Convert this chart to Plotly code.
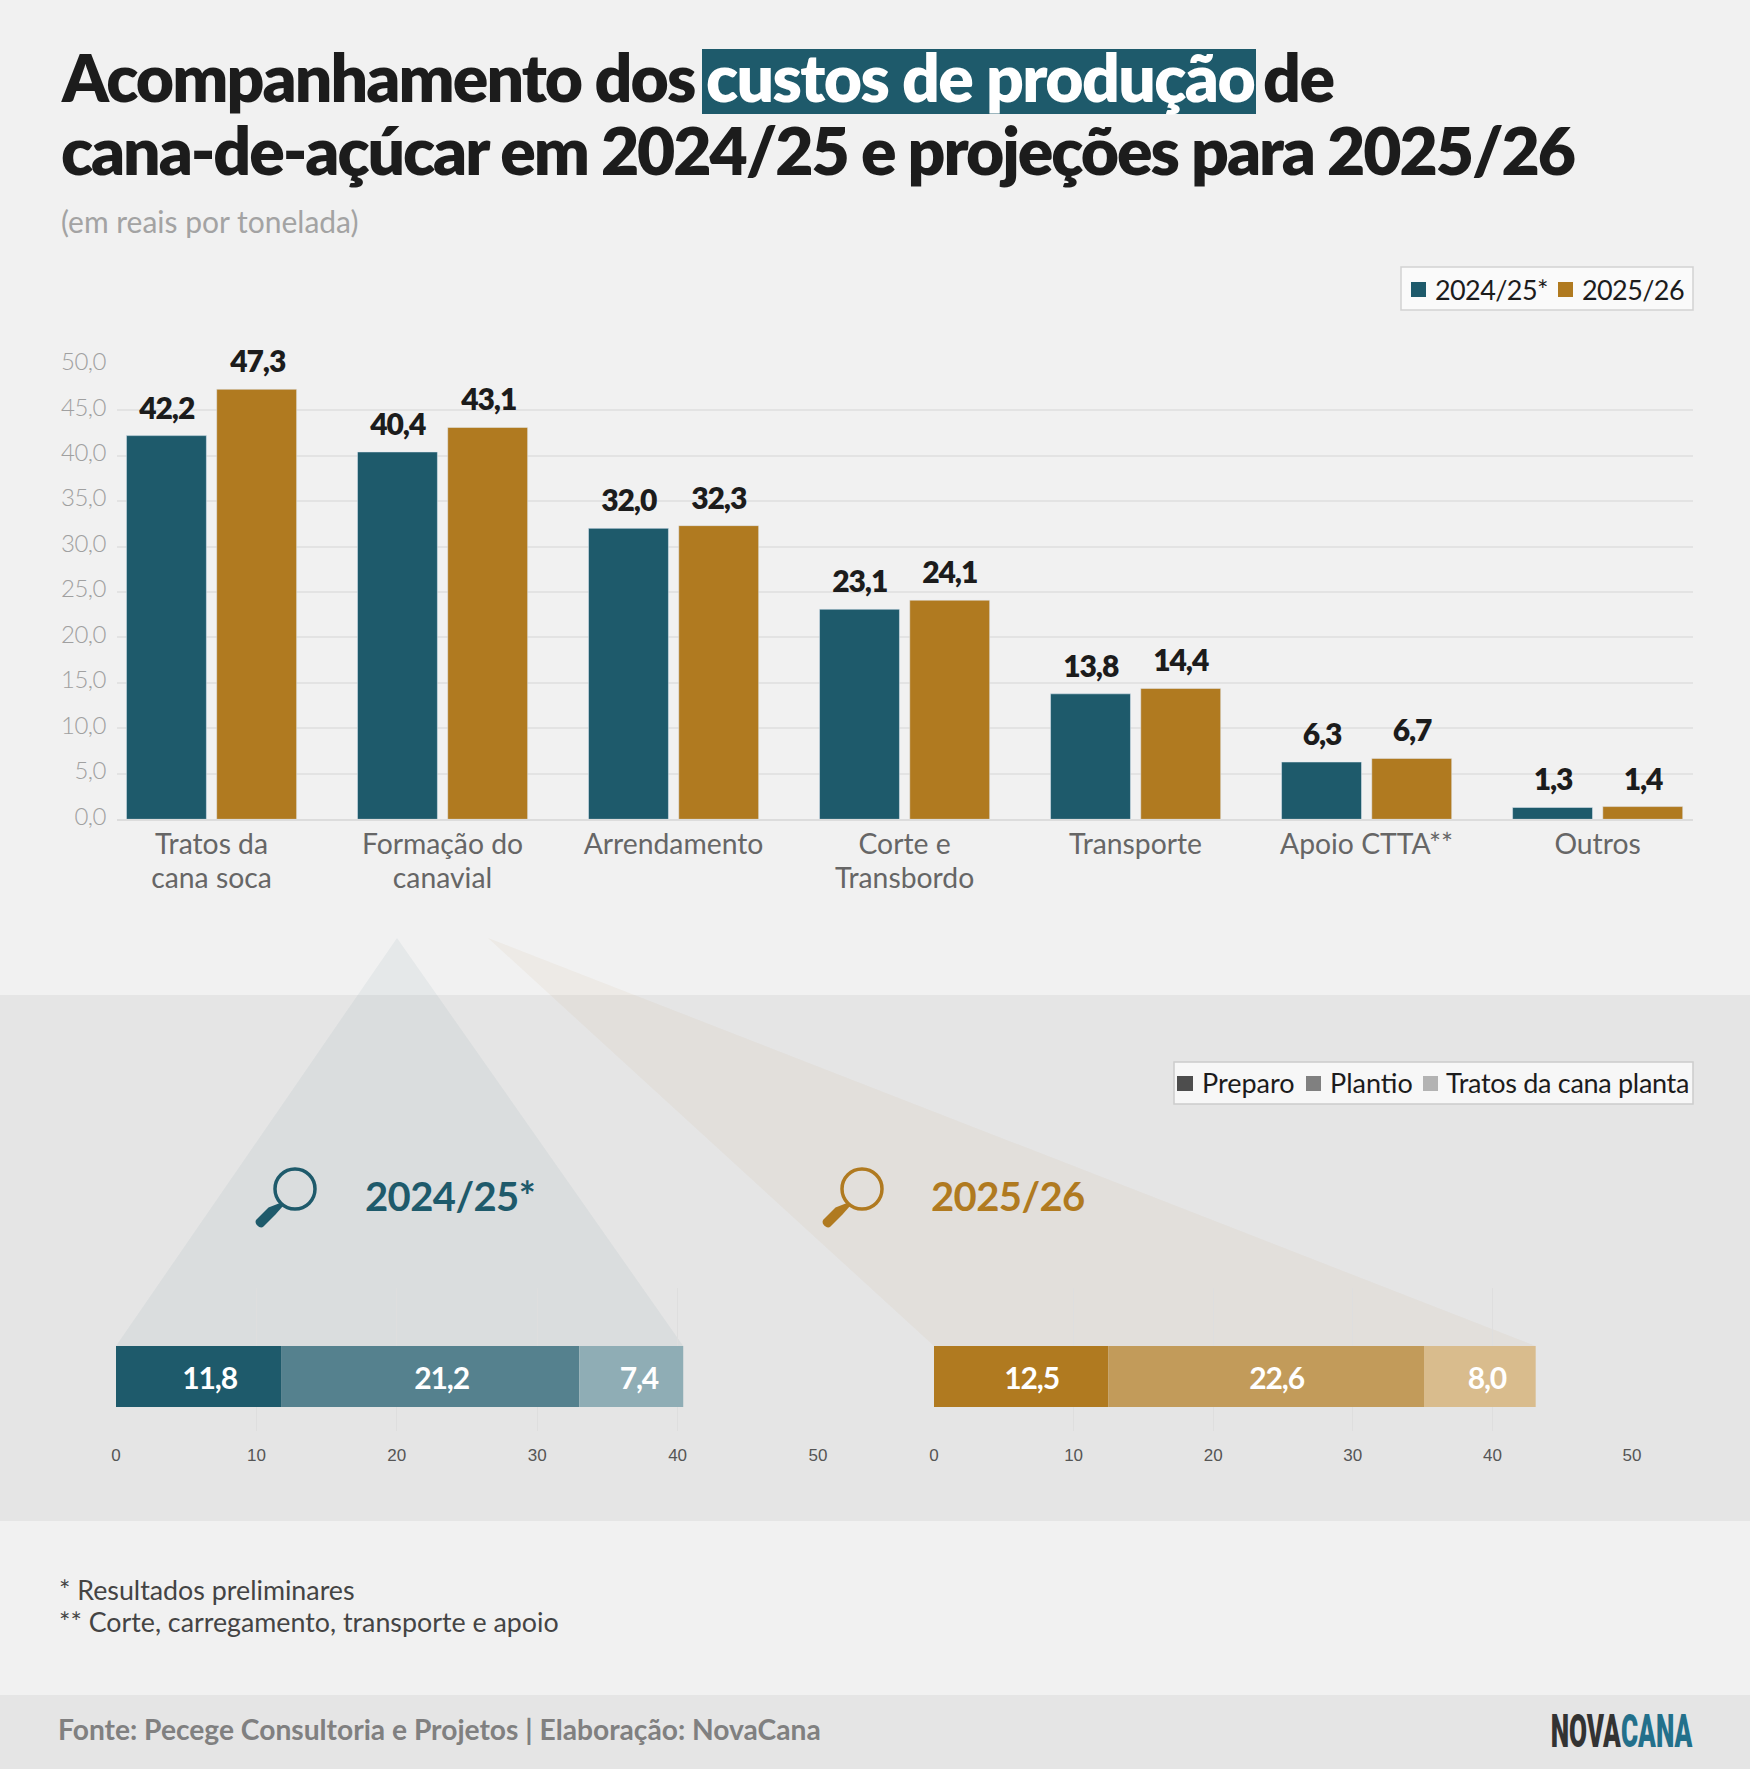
import json
import plotly.graph_objects as go
import numpy as np

W, H = 1750, 1769

# Main comparison
categories = ["Tratos da cana soca", "Formação do canavial", "Arrendamento", "Corte e Transbordo",
              "Transporte", "Apoio CTTA**", "Outros"]
category_labels = ["Tratos da<br>cana soca", "Formação do<br>canavial", "Arrendamento", "Corte e<br>Transbordo",
                   "Transporte", "Apoio CTTA**", "Outros"]
safra_2425 = [42.2, 40.4, 32.0, 23.1, 13.8, 6.3, 1.3]
safra_2526 = [47.3, 43.1, 32.3, 24.1, 14.4, 6.7, 1.4]

# Breakdown of "Formação do canavial"
stages = ["Preparo", "Plantio", "Tratos da cana planta"]
stages_2425 = [11.8, 21.2, 7.4]
stages_2526 = [12.5, 22.6, 8.0]

BLUE, GOLD = "#1e5a6b", "#b07a20"
BLUE_SHADES = [BLUE, "#55818e", "#8fadb5"]
GOLD_SHADES = [GOLD, "#c29b5a", "#d9bc8d"]
STAGE_GREYS = ["#4d4d4d", "#808080", "#b3b3b3"]
BG, BAND = "#f1f1f1", "#e5e5e5"
INK = "#1c1c1c"
FONT = "Lato"

# Letter spacing per text, applied once the figure is drawn
tracking = {}


def px(x):
    return x / W


def py(y):
    return 1 - y / H


def br(v):
    return f"{v:.1f}".replace(".", ",")


def rect(x0, y0, x1, y1, fill, line=None, width=0):
    return dict(type="rect", xref="paper", yref="paper", x0=px(x0), x1=px(x1), y0=py(y0), y1=py(y1),
                fillcolor=fill, line=dict(color=line or fill, width=width), layer="below")


def label(x, y, text, size, color, anchor="left", weight=400, family=FONT, track=0):
    if track:
        tracking[text] = track
    return dict(xref="paper", yref="paper", x=px(x), y=py(y), text=text, showarrow=False,
                xanchor=anchor, yanchor="middle", align=anchor if anchor != "center" else "center",
                font=dict(family=family, size=size, color=color, weight=weight))


def magnifier(cx, cy, color):
    # Lens outline plus a rounded handle running towards the lower left
    lens = dict(type="circle", xref="paper", yref="paper", x0=px(cx - 20), x1=px(cx + 20),
                y0=py(cy + 20), y1=py(cy - 20), line=dict(color=color, width=3.5), fillcolor="rgba(0,0,0,0)")
    path = (f"M {px(cx-15)} {py(cy+14)} L {px(cx-12)} {py(cy+17)} L {px(cx-19.5)} {py(cy+25.5)} "
            f"L {px(cx-31.5)} {py(cy+37.5)} "
            f"C {px(cx-35)} {py(cy+41)} {px(cx-42)} {py(cy+34)} {px(cx-38.5)} {py(cy+30.5)} "
            f"L {px(cx-26.5)} {py(cy+18.5)} Z")
    handle = dict(type="path", xref="paper", yref="paper", path=path, fillcolor=color, line=dict(width=0))
    return [lens, handle]


fig = go.Figure()

BAR_WIDTH = 0.346
SERIES_OFFSETS = (-0.368, 0.0225)
for name, values, color, offset in [("2024/25*", safra_2425, BLUE, SERIES_OFFSETS[0]),
                                    ("2025/26", safra_2526, GOLD, SERIES_OFFSETS[1])]:
    fig.add_bar(x=categories, y=values, name=name, marker_color=color, width=BAR_WIDTH, offset=offset,
                showlegend=False, xaxis="x", yaxis="y")


def add_stack(values, shades, xa, ya, period):
    starts = np.concatenate([[0], np.cumsum(values)[:-1]])
    for stage, v, b, shade in zip(stages, values, starts, shades):
        fig.add_bar(y=[0], x=[v], base=[b], orientation="h", width=1, offset=-0.5, marker_color=shade,
                    marker_line_width=0, name=f"{stage} {period}", showlegend=False, xaxis=xa, yaxis=ya)
    return starts


starts_a = add_stack(stages_2425, BLUE_SHADES, "x2", "y2", "2024/25")
starts_b = add_stack(stages_2526, GOLD_SHADES, "x3", "y3", "2025/26")

# Domains
main_left, main_right, main_top, main_bottom = 117, 1693, 363.7, 819.3
bd_top, bd_bottom = 1288, 1431
a_left, a_right = 116, 818
b_left, b_right = 934, 1632
a_scale = (a_right - a_left) / 50
b_scale = (b_right - b_left) / 50

shapes = [
    rect(0, 995, W, 1521, BAND),
    rect(0, 1695, W, H, BAND),
]
# Zoom wedges from the "Formação do canavial" group down to each stacked bar
wedge_a = (f"M {px(397)} {py(938)} L {px(a_left)} {py(1346)} "
           f"L {px(a_left + sum(stages_2425) * a_scale)} {py(1346)} Z")
wedge_b = (f"M {px(488)} {py(938)} L {px(b_left)} {py(1346)} "
           f"L {px(b_left + sum(stages_2526) * b_scale)} {py(1346)} Z")
shapes += [
    dict(type="path", xref="paper", yref="paper", path=wedge_a, fillcolor="rgba(30,90,107,0.055)",
         line=dict(width=0), layer="below"),
    dict(type="path", xref="paper", yref="paper", path=wedge_b, fillcolor="rgba(176,122,32,0.05)",
         line=dict(width=0), layer="below"),
    rect(702, 49, 1256, 114, BLUE),
    # Legend boxes and swatches
    rect(1401, 267, 1693, 310, "#fafafa", "#d2d2d2", 1.5),
    rect(1411, 282, 1426, 297, BLUE),
    rect(1558, 282, 1573, 297, GOLD),
    rect(1174, 1062, 1693, 1104, "#f7f7f7", "#cccccc", 1.5),
    rect(1177, 1076, 1193, 1091, STAGE_GREYS[0]),
    rect(1306, 1076, 1321, 1091, STAGE_GREYS[1]),
    rect(1423, 1076, 1438, 1091, STAGE_GREYS[2]),
]
shapes += magnifier(295, 1189, BLUE) + magnifier(862, 1189, GOLD)

TITLE_WEIGHT = 800
annotations = [
    label(58.5, 76.5, "Acompanhamento dos", 66, INK, weight=TITLE_WEIGHT, track=-1.9),
    label(703.5, 76.5, "custos de produção", 66, "#ffffff", weight=TITLE_WEIGHT, track=-1.6),
    label(1260.5, 76.5, "de", 66, INK, weight=TITLE_WEIGHT, track=-1.5),
    label(58.5, 150, "cana-de-açúcar em 2024/25 e projeções para 2025/26", 66, INK, weight=TITLE_WEIGHT, track=-2.07),
    label(59, 221, "(em reais por tonelada)", 30, "#a3a3a3"),
    label(1433, 289, "2024/25*", 27, INK),
    label(1580, 289, "2025/26", 27, INK),
    label(1200, 1082, stages[0], 27, INK),
    label(1328, 1082, stages[1], 27, INK),
    label(1444, 1082, stages[2], 27, INK, track=-0.3),
    label(363, 1196, "2024/25*", 40, BLUE, weight=700, track=-0.6),
    label(929, 1196, "2025/26", 40, GOLD, weight=700, track=-0.6),
    label(56.5, 1590, "* Resultados preliminares", 26.8, "#444444"),
    label(56.5, 1622, "** Corte, carregamento, transporte e apoio", 26.8, "#444444"),
    label(56, 1729, "Fonte: Pecege Consultoria e Projetos | Elaboração: NovaCana", 28.2, "#808080", weight=700),
    label(1621, 1731, "NOVA<span style=\"color:#23708b\">CANA</span>", 46, "#333333", anchor="center",
          weight=900, family="Roboto"),
]

# Value labels sit above each bar, centred on it
VALUE_TRACK = -1.1
for values, offset in zip((safra_2425, safra_2526), SERIES_OFFSETS):
    for i, v in enumerate(values):
        tracking[br(v)] = VALUE_TRACK
        annotations.append(dict(xref="x", yref="y", x=i + offset + BAR_WIDTH / 2, y=v, yanchor="bottom", yshift=9,
                                showarrow=False, text=br(v),
                                font=dict(family=FONT, size=30, color=INK, weight=800)))


def stack_labels(values, starts, xref, yref, shifts):
    for v, b, shift in zip(values, starts, shifts):
        tracking[br(v)] = VALUE_TRACK
        annotations.append(dict(xref=xref, yref=yref, x=b + v / 2, y=0, xshift=shift, showarrow=False,
                                text=br(v), font=dict(family=FONT, size=30, color="#ffffff", weight=700)))


stack_labels(stages_2425, starts_a, "x2", "y2", (11, 11, 8))
stack_labels(stages_2526, starts_b, "x3", "y3", (10, 10, 7))

grid = "#e3e3e3"
layout_axes = dict(
    xaxis=dict(domain=[px(main_left), px(main_right)], range=[-0.409, 6.413], type="category",
               categoryorder="array", categoryarray=categories,
               tickmode="array", tickvals=categories, ticktext=category_labels, tickangle=0,
               showgrid=False, zeroline=False, ticks="", ticklabelstandoff=-1,
               showline=True, linecolor="#dcdcdc", linewidth=1.5,
               tickfont=dict(family=FONT, size=28.3, color="#666666")),
    yaxis=dict(domain=[py(main_bottom), py(main_top)], range=[0, 50.11], tick0=0, dtick=5, tickformat=".1f",
               gridcolor=grid, gridwidth=1.5, zeroline=False, ticks="", ticklabelstandoff=10, ticklabelshift=-3,
               tickfont=dict(family=FONT, size=24, color="#a0a0a0", weight=300)),
)
for suffix, left, right, anchor in [("2", a_left, a_right, "y2"), ("3", b_left, b_right, "y3")]:
    layout_axes[f"xaxis{suffix}"] = dict(domain=[px(left), px(right)], range=[0, 50], dtick=10, anchor=anchor,
                                         gridcolor="#dedede", gridwidth=1, zeroline=False, ticks="",
                                         ticklabelstandoff=12,
                                         tickfont=dict(family="Liberation Sans", size=17, color="#555555"))
    layout_axes[f"yaxis{suffix}"] = dict(domain=[py(bd_bottom), py(bd_top)], range=[-0.893, 1.451],
                                         visible=False, anchor=f"x{suffix}")

fig.update_layout(width=W, height=H, margin=dict(l=0, r=0, t=0, b=0, autoexpand=False), autosize=False,
                  paper_bgcolor=BG, plot_bgcolor="rgba(0,0,0,0)", barmode="overlay", separators=",.",
                  font=dict(family=FONT), showlegend=False, shapes=shapes, annotations=annotations,
                  **layout_axes)

# Text refinements SVG attributes allow but layout options do not: tight letter spacing,
# the two-line category labels' leading, and the wordmark's condensed width
post = """
var TRACKING = %s;
function refineText() {
  document.querySelectorAll('text.annotation-text').forEach(function (t) {
    var s = t.textContent;
    if (TRACKING[s] !== undefined) { t.style.letterSpacing = TRACKING[s] + 'px'; }
    if (s === 'NOVACANA') {
      var box = t.getBBox();
      var cx = box.x + box.width / 2;
      t.setAttribute('transform', 'translate(' + cx + ',0) scale(' + (142 / box.width) + ',1) translate(' + (-cx) + ',0)');
    }
  });
  document.querySelectorAll('.ytick text').forEach(function (t) { t.style.letterSpacing = '-0.5px'; });
  document.querySelectorAll('.xtick text tspan.line').forEach(function (t) {
    if (t.getAttribute('dy') && parseFloat(t.getAttribute('dy')) !== 0) { t.setAttribute('dy', '33.5px'); }
  });
}
refineText();
setTimeout(refineText, 100);
""" % json.dumps(tracking, ensure_ascii=False)
fig.write_html("out.html", post_script=post, config=dict(displayModeBar=False))
